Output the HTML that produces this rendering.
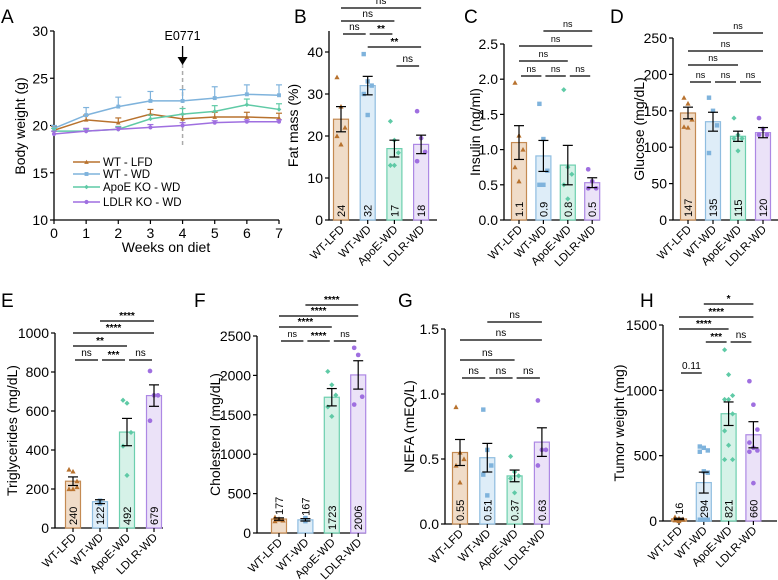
<!DOCTYPE html>
<html><head><meta charset="utf-8">
<style>
html,body{margin:0;padding:0;background:#fff;}
svg{display:block;font-family:"Liberation Sans",Arial,sans-serif;}
</style></head>
<body>
<svg id="fig" width="778" height="580" viewBox="0 0 778 580"></svg>
<script>
// ---------- Panel A data ----------
const weeks=[0,1,2,3,4,5,6,7];
const aYTicks=[10,15,20,25,30];
const aWTLFD=[19.5,20.6,20.3,21.2,20.7,20.9,20.9,20.8];
const aWTLFDerr=[0.4,0.5,0.5,0.5,0.5,0.5,0.5,0.5];
const aWTWD=[19.7,21.1,22.0,22.6,22.6,22.9,23.3,23.2];
const aWTWDerr=[0.3,0.8,1.0,1.0,1.2,1.2,1.0,1.1];
const aApoE=[19.4,19.4,19.6,20.7,21.2,21.5,22.2,21.7];
const aApoEerr=[0.3,0.2,0.3,0.4,0.6,0.6,0.6,0.6];
const aLDLR=[19.1,19.4,19.6,19.8,20.0,20.3,20.4,20.4];
const aLDLRerr=[0.3,0.3,0.2,0.3,0.3,0.2,0.2,0.2];
const aSeriesNames=["WT - LFD","WT - WD","ApoE KO - WD","LDLR KO - WD"];

// ---------- Bar panels data ----------
const groups=["WT-LFD","WT-WD","ApoE-WD","LDLR-WD"];
const bMeans=[24,32,17,18]; const bErr=[3,2.2,2,2.2];
const bPts=[[34,27,22,20,18],[39.5,33,32,30,25],[23.5,19,16,13,13],[25.9,19.5,16.2,14]];
const bLabels=["24","32","17","18"]; const bTicks=[0,10,20,30,40];
const cMeans=[1.1,0.91,0.78,0.53]; const cErr=[0.24,0.22,0.28,0.07];
const cPts=[[1.95,1.2,1.0,0.75,0.55],[1.65,1.15,0.7,0.5,0.5],[1.85,0.75,0.65,0.5,0.3],[0.72,0.55,0.45,0.45]];
const cLabels=["1.1","0.9","0.8","0.5"]; const cTicks=[0,0.5,1.0,1.5,2.0,2.5];
const dMeans=[147,135,115,120]; const dErr=[8,13,7,7];
const dPts=[[168,160,138,128,127],[168,150,130,92],[140,117,112,112,95],[140,125,117,117]];
const dLabels=["147","135","115","120"]; const dTicks=[0,50,100,150,200,250];
const eMeans=[240,135,492,679]; const eErr=[22,10,70,55];
const ePts=[[300,290,240,200,200,210],[140,135,125],[655,640,490,420,270],[805,680,680,550]];
const eLabels=["240","122","492","679"]; const eTicks=[0,200,400,600,800,1000];
const fMeans=[177,167,1723,2006]; const fErr=[15,15,110,180];
const fPts=[[200,180,160,150,170],[190,170,150],[2050,1880,1750,1600,1480],[2350,2260,1730,1630]];
const fLabels=["177","167","1723","2006"]; const fTicks=[0,500,1000,1500,2000,2500];
const gMeans=[0.55,0.51,0.37,0.63]; const gErr=[0.1,0.11,0.045,0.11];
const gPts=[[0.9,0.55,0.5,0.45,0.32],[0.88,0.57,0.45,0.38,0.22],[0.52,0.4,0.37,0.35,0.24],[0.95,0.57,0.57,0.45]];
const gLabels=["0.55","0.51","0.37","0.63"]; const gTicks=[0,0.5,1.0,1.5];
const hMeans=[16,294,821,660]; const hErr=[5,80,90,100];
const hPts=[[30,20,10,5,0,15,25,10],[570,560,540,530,380,370,10,10,10],[1310,1120,960,930,930,820,690,580,470,470],[1070,890,700,600,560,540,530,290]];
const hLabels=["16","294","821","660"]; const hTicks=[0,500,1000,1500];

const NS='http://www.w3.org/2000/svg';
const svg=document.getElementById('fig');
const lineCol=["#b8722e","#7fb3dc","#5fcaa6","#9f6fe0"];
const fillCol=["#f0dcc8","#deedf8","#d6f2e8","#ebe2f8"];
const strokeCol=["#c48a52","#8fbde0","#6ccfae","#ad88e4"];
function el(tag,attrs,parent){const e=document.createElementNS(NS,tag);for(const k in attrs)e.setAttribute(k,attrs[k]);(parent||svg).appendChild(e);return e;}
function txt(s,attrs,parent){const t=el('text',attrs,parent);t.textContent=s;return t;}
function marker(g,k,x,y,r){
  let m;
  if(k===0){m=el('polygon',{points:`${x},${y-r} ${x+r},${y+r*0.8} ${x-r},${y+r*0.8}`,fill:lineCol[0]},g);}
  else if(k===1){m=el('rect',{x:x-r*0.85,y:y-r*0.85,width:r*1.7,height:r*1.7,fill:lineCol[1]},g);}
  else if(k===2){m=el('polygon',{points:`${x},${y-r} ${x+r},${y} ${x},${y+r} ${x-r},${y}`,fill:lineCol[2]},g);}
  else {m=el('circle',{cx:x,cy:y,r:r*0.9,fill:lineCol[3]},g);}
  
  
  return m;
}

// ---------- Panel A ----------
(function(){
  const g=el('g',{});
  
  const x0=54,x1=279,yb=220,yt=31;
  const xs=v=>x0+(v-0)/(7-0)*(x1-x0);
  const ys=v=>yb-(v-10)/(30-10)*(yb-yt);
  txt('A',{x:1,y:23,'font-size':19},g);
  const ax=el('path',{d:`M${x0},${yt}V${yb}H${x1}`,stroke:'#000','stroke-width':1.3,fill:'none'},g);
  
  aYTicks.forEach(v=>{el('line',{x1:x0-4,x2:x0,y1:ys(v),y2:ys(v),stroke:'#000','stroke-width':1.2},g);
    const t=txt(v,{x:x0-6,y:ys(v)+5,'text-anchor':'end','font-size':14},g);});
  weeks.forEach(v=>{el('line',{x1:xs(v),x2:xs(v),y1:yb,y2:yb+4,stroke:'#000','stroke-width':1.2},g);
    const t=txt(v,{x:xs(v),y:yb+18,'text-anchor':'middle','font-size':14},g);});
  const yt2=txt('Body weight (g)',{x:0,y:0,transform:`translate(25,126) rotate(-90)`,'text-anchor':'middle','font-size':14},g);
  
  const xt=txt('Weeks on diet',{x:166,y:252,'text-anchor':'middle','font-size':14},g);
  
  el('line',{x1:xs(4),x2:xs(4),y1:64,y2:148,stroke:'#aaa','stroke-width':1.5,'stroke-dasharray':'4,3'},g);
  el('line',{x1:xs(4),x2:xs(4),y1:46,y2:58,stroke:'#000','stroke-width':1.3},g);
  el('polygon',{points:`${xs(4)-5},57 ${xs(4)+5},57 ${xs(4)},65`,fill:'#000'},g);
  const an=txt('E0771',{x:xs(4),y:40,'text-anchor':'middle','font-size':12.5},g);
  
  const series=[[aWTLFD,aWTLFDerr],[aWTWD,aWTWDerr],[aApoE,aApoEerr],[aLDLR,aLDLRerr]];
  series.forEach((s,k)=>{
    const sg=el('g',{},g);
    
    
    weeks.forEach((w,i)=>{const x=xs(w),y=ys(s[0][i]),ye=ys(s[0][i]+s[1][i]);
      el('line',{x1:x,x2:x,y1:y,y2:ye,stroke:lineCol[k],'stroke-width':1.2},sg);
      el('line',{x1:x-3,x2:x+3,y1:ye,y2:ye,stroke:lineCol[k],'stroke-width':1.2},sg);});
    el('polyline',{points:weeks.map((w,i)=>xs(w)+','+ys(s[0][i])).join(' '),fill:'none',stroke:lineCol[k],'stroke-width':1.5},sg);
    weeks.forEach((w,i)=>marker(sg,k,xs(w),ys(s[0][i]),2.3));
  });
  const ly=[162,174,187,202];
  aSeriesNames.forEach((n,k)=>{
    const lg=el('g',{},g);
    el('line',{x1:73,x2:100,y1:ly[k],y2:ly[k],stroke:lineCol[k],'stroke-width':1.5},lg);
    marker(lg,k,86.5,ly[k],2.3);
    txt(n,{x:103,y:ly[k]+4,'font-size':11.5},lg);
  });
})();

// ---------- Generic bar panel ----------
function barPanel(c){
  const g=el('g',{});
  
  const ys=v=>c.y0-v/c.ymax*(c.y0-c.yTop);
  const cx=i=>c.cx0+i*c.dx;
  const L=txt(c.letter,{x:c.lx,y:c.ly,'font-size':19},g);
  
  el('path',{d:`M${c.x0},${c.yTop}V${c.y0}H${c.xEnd}`,stroke:'#000','stroke-width':1.3,fill:'none'},g);
  c.ticks.forEach(v=>{el('line',{x1:c.x0-4,x2:c.x0,y1:ys(v),y2:ys(v),stroke:'#000','stroke-width':1.2},g);
    const t=txt(c.tickFmt?c.tickFmt(v):v,{x:c.x0-6,y:ys(v)+5,'text-anchor':'end','font-size':14},g);
    });
  const yt=txt(c.title,{x:0,y:0,transform:`translate(${c.tx},${(c.y0+c.yTop)/2}) rotate(-90)`,'text-anchor':'middle','font-size':14},g);
  
  const bw=15;
  groups.forEach((gn,i)=>{
    const x=cx(i);
    const b=el('rect',{x:x-bw/2,y:ys(c.means[i]),width:bw,height:c.y0-ys(c.means[i]),fill:fillCol[i],stroke:strokeCol[i],'stroke-width':1.2},g);
    
    el('line',{x1:x,x2:x,y1:c.y0,y2:c.y0+4,stroke:'#000','stroke-width':1.2},g);
    const cl=txt(gn,{x:0,y:0,transform:`translate(${x+4},${c.y0+10}) rotate(-45)`,'text-anchor':'end','font-size':11.5},g);
    
  });
  groups.forEach((gn,i)=>{const x=cx(i);
    c.pts[i].forEach((v,j)=>{const off=c.pts[i].length>3?((j%3)-1)*4:0;marker(g,i,x+off,ys(v),2.6);});});
  groups.forEach((gn,i)=>{const x=cx(i),m=c.means[i],e=c.err[i];
    const eg=el('g',{},g);
    el('line',{x1:x,x2:x,y1:ys(m-e),y2:ys(m+e),stroke:'#000','stroke-width':1.2},eg);
    el('line',{x1:x-5,x2:x+5,y1:ys(m+e),y2:ys(m+e),stroke:'#000','stroke-width':1.2},eg);
    el('line',{x1:x-5,x2:x+5,y1:ys(m-e),y2:ys(m-e),stroke:'#000','stroke-width':1.2},eg);
    const above=c.above&&c.above[i];
    const ty=above?ys(m)-4:c.y0-3;
    const vl=txt(c.labels[i],{x:0,y:0,transform:`translate(${x+4},${ty}) rotate(-90)`,'font-size':11},g);
    
  });
  c.sig.forEach(s=>{const [i,j,y,lab]=s;
    const adj=(j-i===1)?2:0;
    const sg=el('g',{},g);
    el('line',{x1:cx(i)+adj,x2:cx(j)-adj,y1:y,y2:y,stroke:'#000','stroke-width':1.2},sg);
    const star=lab.indexOf('*')>=0;
    txt(lab,{x:(cx(i)+cx(j))/2,y:star?y-2:y-4,'text-anchor':'middle','font-size':star?10:c.nsSize||9,'font-weight':star?'bold':'normal'},sg);
  });
}
const f1=v=>v.toFixed(1);
barPanel({name:'panel-b',letter:'B',lx:294,ly:23,x0:329,xEnd:437,y0:220,yTop:31,ymax:45,ticks:bTicks,cx0:341,dx:26.7,means:bMeans,err:bErr,pts:bPts,labels:bLabels,title:'Fat mass (%)',tx:298,nsSize:10,
  sig:[[0,3,8,'ns'],[0,2,21,'ns'],[0,1,34,'ns'],[1,2,34,'**'],[1,3,47,'**'],[2,3,66,'ns']]});
barPanel({name:'panel-c',letter:'C',lx:464,ly:23,x0:504,xEnd:600,y0:220,yTop:44,ymax:2.5,ticks:cTicks,tickFmt:f1,cx0:519,dx:24.4,means:cMeans,err:cErr,pts:cPts,labels:cLabels,title:'Insulin (ng/ml)',tx:480,
  sig:[[0,1,76,'ns'],[1,2,76,'ns'],[2,3,76,'ns'],[0,2,61,'ns'],[0,3,46,'ns'],[1,3,31,'ns']]});
barPanel({name:'panel-d',letter:'D',lx:610,ly:23,x0:673,xEnd:778,y0:220,yTop:38,ymax:250,ticks:dTicks,cx0:688,dx:25,means:dMeans,err:dErr,pts:dPts,labels:dLabels,title:'Glucose (mg/dL)',tx:644,
  sig:[[0,1,82,'ns'],[1,2,82,'ns'],[2,3,82,'ns'],[0,2,65,'ns'],[0,3,51,'ns'],[1,3,33,'ns']]});
barPanel({name:'panel-e',letter:'E',lx:1,ly:307,x0:55,xEnd:163,y0:528,yTop:333,ymax:1000,ticks:eTicks,cx0:73,dx:27,means:eMeans,err:eErr,pts:ePts,labels:eLabels,title:'Triglycerides (mg/dL)',tx:17,nsSize:10,
  sig:[[0,1,360,'ns'],[1,2,360,'***'],[2,3,360,'ns'],[0,2,346,'**'],[0,3,333,'****'],[1,3,321,'****']]});
barPanel({name:'panel-f',letter:'F',lx:194,ly:307,x0:257,xEnd:366,y0:533,yTop:336,ymax:2500,ticks:fTicks,cx0:279,dx:26.4,means:fMeans,err:fErr,pts:fPts,labels:fLabels,above:[true,true,false,false],title:'Cholesterol (mg/dL)',tx:220,
  sig:[[0,1,341,'ns'],[1,2,341,'****'],[2,3,341,'ns'],[0,2,327,'****'],[0,3,316,'****'],[1,3,305,'****']]});
barPanel({name:'panel-g',letter:'G',lx:398,ly:307,x0:445,xEnd:550,y0:524,yTop:329,ymax:1.5,ticks:gTicks,tickFmt:f1,cx0:460,dx:27.3,means:gMeans,err:gErr,pts:gPts,labels:gLabels,title:'NEFA (mEQ/L)',tx:414,nsSize:10,
  sig:[[0,1,378,'ns'],[1,2,378,'ns'],[2,3,378,'ns'],[0,2,360,'ns'],[0,3,340,'ns'],[1,3,322,'ns']]});
barPanel({name:'panel-h',letter:'H',lx:640,ly:307,x0:663,xEnd:777,y0:521,yTop:325,ymax:1500,ticks:hTicks,cx0:679,dx:24.8,means:hMeans,err:hErr,pts:hPts,labels:hLabels,above:[true,false,false,false],title:'Tumor weight (mg)',tx:624,nsSize:10,
  sig:[[0,1,373,'0.11'],[1,2,342,'***'],[2,3,342,'ns'],[0,2,329,'****'],[0,3,317,'****'],[1,3,304,'*']]});
</script>
</body></html>
